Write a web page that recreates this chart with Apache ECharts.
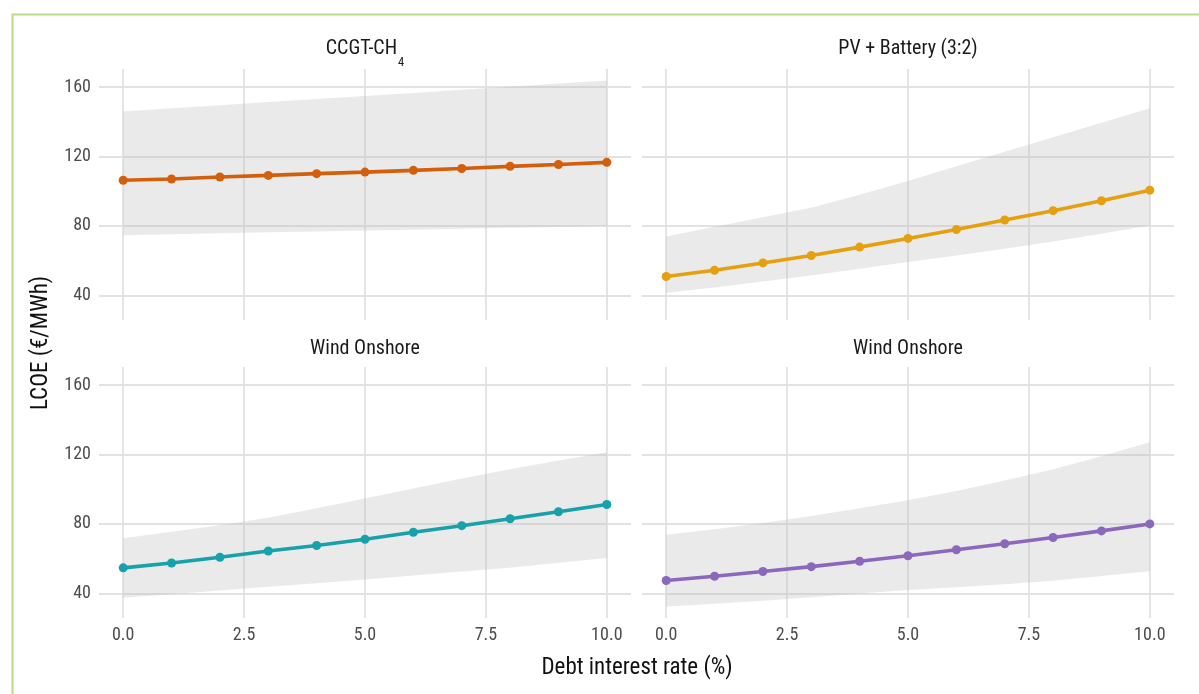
<!DOCTYPE html>
<html><head><meta charset="utf-8">
<script src="https://cdn.jsdelivr.net/npm/echarts@6/dist/echarts.min.js"></script>
<style>html,body{margin:0;padding:0;background:#fff}#c{width:1199px;height:694px}</style>
</head><body><div id="c"></div>
<script>
// ---- data ----
const rates = [0, 1, 2, 3, 4, 5, 6, 7, 8, 9, 10];
const xTicks = [0, 2.5, 5, 7.5, 10];
const yTicks = [40, 80, 120, 160];
const panelNames = ['CCGT-CH', 'PV + Battery (3:2)', 'Wind Onshore', 'Wind Onshore'];
const xTitle = 'Debt interest rate (%)';
const yTitle = 'LCOE (€/MWh)';

const ccgtMid  = [106.3, 107.0, 108.2, 109.1, 110.1, 111.0, 112.0, 113.1, 114.3, 115.4, 116.6];
const ccgtLow  = [74.7, 75.2, 75.8, 76.3, 76.8, 77.3, 77.8, 78.4, 78.9, 79.4, 80.0];
const ccgtHigh = [145.9, 147.7, 149.5, 151.3, 153.1, 154.8, 156.6, 158.4, 160.2, 162.0, 163.8];

const pvMid  = [50.9, 54.5, 58.7, 63.0, 67.8, 72.8, 77.9, 83.4, 88.8, 94.5, 100.6];
const pvLow  = [41.5, 44.5, 48.0, 51.5, 55.3, 59.2, 63.0, 66.8, 71.0, 75.5, 80.2];
const pvHigh = [73.9, 79.5, 85.0, 90.5, 98.0, 105.9, 114.3, 122.7, 131.0, 139.4, 147.8];

const windAMid  = [54.7, 57.5, 60.8, 64.4, 67.6, 71.2, 75.2, 79.0, 83.0, 87.0, 91.2];
const windALow  = [37.5, 39.5, 41.6, 43.8, 45.9, 48.0, 50.3, 52.6, 54.8, 57.6, 60.4];
const windAHigh = [71.8, 75.5, 79.2, 83.5, 89.0, 94.7, 100.4, 106.2, 111.5, 116.5, 121.3];

const windBMid  = [47.4, 49.9, 52.6, 55.4, 58.5, 61.7, 65.1, 68.6, 72.2, 76.0, 80.0];
const windBLow  = [32.4, 34.0, 35.8, 37.8, 40.0, 41.9, 43.5, 45.2, 47.3, 50.0, 52.8];
const windBHigh = [73.7, 77.0, 80.5, 84.5, 89.0, 93.7, 99.0, 105.0, 111.5, 119.0, 127.0];

// ---- build ----
const panels = [
  {mid: ccgtMid, low: ccgtLow, high: ccgtHigh, color: '#d35f0b'},
  {mid: pvMid, low: pvLow, high: pvHigh, color: '#e5a00f'},
  {mid: windAMid, low: windALow, high: windAHigh, color: '#17a1ab'},
  {mid: windBMid, low: windBLow, high: windBHigh, color: '#8b68bd'}
];
const FONT = "'Liberation Sans Narrow', 'Arial Narrow', 'Roboto Condensed', 'DejaVu Sans Condensed', sans-serif";

let allV = [];
panels.forEach(p => { allV = allV.concat(p.low, p.high, p.mid); });
const vMin = Math.min(...allV), vMax = Math.max(...allV);
const yMin = vMin - (vMax - vMin) * 0.05, yMax = vMax + (vMax - vMin) * 0.05;
const xMin = rates[0] - (rates[rates.length-1] - rates[0]) * 0.05;
const xMax = rates[rates.length-1] + (rates[rates.length-1] - rates[0]) * 0.05;

const gridBoxes = [
  {left: 99, top: 69, width: 532, height: 251},
  {left: 642, top: 69, width: 532, height: 251},
  {left: 99, top: 367, width: 532, height: 251},
  {left: 642, top: 367, width: 532, height: 251}
];
const gridLine = {show: true, lineStyle: {color: '#e2e2e2', width: 1.8}};
const labelStyle = {fontSize: 18, color: '#4d4d4d', fontFamily: FONT};

const grid = [], xAxis = [], yAxis = [], series = [];
panels.forEach((p, i) => {
  grid.push(gridBoxes[i]);
  xAxis.push({
    gridIndex: i, type: 'value', min: xMin, max: xMax,
    axisLine: {show: false},
    axisTick: {show: false, customValues: xTicks},
    axisLabel: Object.assign({show: i >= 2, customValues: xTicks, margin: 8,
      formatter: v => Number(v).toFixed(1)}, labelStyle),
    splitLine: gridLine
  });
  yAxis.push({
    gridIndex: i, type: 'value', min: yMin, max: yMax,
    axisLine: {show: false},
    axisTick: {show: false, customValues: yTicks},
    axisLabel: Object.assign({show: i % 2 === 0, customValues: yTicks, margin: 8,
      formatter: v => String(Math.round(v))}, labelStyle),
    splitLine: gridLine
  });
  // uncertainty ribbon: one polygon through the library's coordinate system
  series.push({
    type: 'custom', xAxisIndex: i, yAxisIndex: i, silent: true, z: 1,
    data: rates.map((x, j) => [x, p.low[j], p.high[j]]),
    encode: {x: 0, y: [1, 2]},
    renderItem: (params, api) => {
      if (params.dataIndex !== 0) return null;
      const pts = [];
      for (let j = 0; j < rates.length; j++) pts.push(api.coord([rates[j], p.high[j]]));
      for (let j = rates.length - 1; j >= 0; j--) pts.push(api.coord([rates[j], p.low[j]]));
      return {type: 'polygon', shape: {points: pts}, style: {fill: 'rgba(185,185,185,0.30)'}};
    }
  });
  series.push({
    type: 'line', xAxisIndex: i, yAxisIndex: i,
    data: rates.map((x, j) => [x, p.mid[j]]),
    color: p.color, lineStyle: {width: 3.6, color: p.color},
    symbol: 'circle', symbolSize: 9, showSymbol: true,
    itemStyle: {color: p.color}, z: 3
  });
});

const titleFont = {fontSize: 20, fontFamily: FONT, fill: '#1a1a1a'};
const graphic = [
  {type: 'rect', shape: {x: 12.5, y: 14.5, width: 1300, height: 800},
   style: {fill: 'none', stroke: '#b8dc8a', lineWidth: 2}, silent: true},
  {type: 'text', x: 365, y: 38.5, style: {
    text: '{a|' + panelNames[0] + '}{b|4}', textAlign: 'center', textVerticalAlign: 'top',
    rich: {
      a: {fontSize: 20, lineHeight: 24, fontFamily: FONT, fill: '#1a1a1a', verticalAlign: 'top'},
      b: {fontSize: 12.5, lineHeight: 12, fontFamily: FONT, fill: '#1a1a1a', verticalAlign: 'top', padding: [18, 0, 0, 1]}
    }}},
  {type: 'text', x: 908, y: 48.5, style: Object.assign({text: panelNames[1], textAlign: 'center', textVerticalAlign: 'middle'}, titleFont)},
  {type: 'text', x: 365, y: 348.5, style: Object.assign({text: panelNames[2], textAlign: 'center', textVerticalAlign: 'middle'}, titleFont)},
  {type: 'text', x: 908, y: 348.5, style: Object.assign({text: panelNames[3], textAlign: 'center', textVerticalAlign: 'middle'}, titleFont)},
  {type: 'text', x: 637, y: 668, style: {text: xTitle, textAlign: 'center', textVerticalAlign: 'middle', fontSize: 23, fontFamily: FONT, fill: '#111'}},
  {type: 'text', x: 41, y: 343, rotation: Math.PI / 2, style: {text: yTitle, textAlign: 'center', textVerticalAlign: 'middle', fontSize: 23, fontFamily: FONT, fill: '#111'}}
];

const chart = echarts.init(document.getElementById('c'), null, {renderer: 'canvas'});
chart.setOption({
  animation: false, backgroundColor: '#ffffff',
  grid, xAxis, yAxis, series, graphic
});
</script></body></html>
